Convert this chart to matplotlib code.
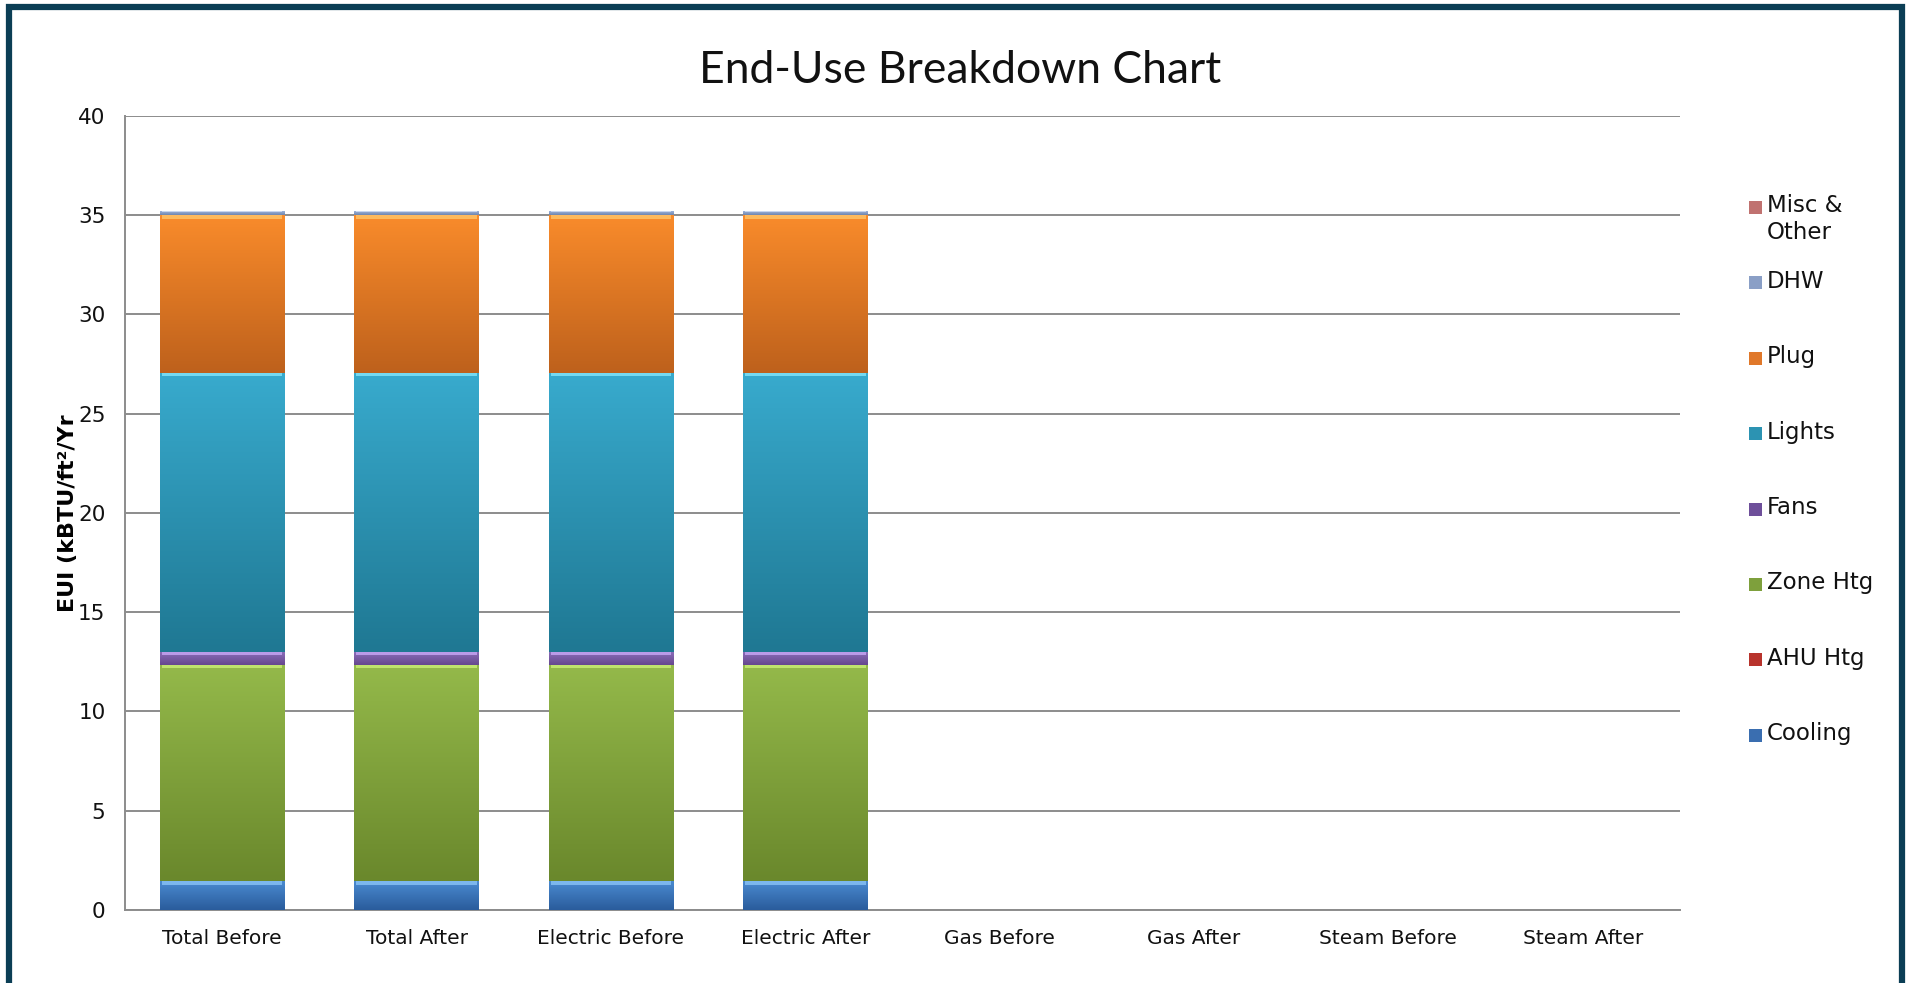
import numpy as np
import matplotlib
matplotlib.use("Agg")
import matplotlib.pyplot as plt
from matplotlib.patches import Rectangle
from matplotlib.colors import to_rgb

# categories along the x axis
categories = ["Total Before", "Total After", "Electric Before", "Electric After",
              "Gas Before", "Gas After", "Steam Before", "Steam After"]

# end-use values in kBTU/ft2/Yr (stack order bottom -> top)
cooling = [1.45, 1.45, 1.45, 1.45, 0, 0, 0, 0]
ahu_htg = [0, 0, 0, 0, 0, 0, 0, 0]
zone_htg = [10.9, 10.9, 10.9, 10.9, 0, 0, 0, 0]
fans = [0.65, 0.65, 0.65, 0.65, 0, 0, 0, 0]
lights = [14.05, 14.05, 14.05, 14.05, 0, 0, 0, 0]
plug = [7.95, 7.95, 7.95, 7.95, 0, 0, 0, 0]
dhw = [0.2, 0.2, 0.2, 0.2, 0, 0, 0, 0]
misc = [0, 0, 0, 0, 0, 0, 0, 0]

series_names = ["Cooling", "AHU Htg", "Zone Htg", "Fans", "Lights", "Plug", "DHW", "Misc &\nOther"]
series_values = [cooling, ahu_htg, zone_htg, fans, lights, plug, dhw, misc]

# (top colour, bottom colour, highlight) for the glossy look
series_colors = [
    ("#4a8ad0", "#2a5c9c", "#86c0f4"),
    ("#cc4038", "#9a2620", "#f07a70"),
    ("#94b94a", "#6a882c", "#c8ec74"),
    ("#8a6cb8", "#66488e", "#c4a4f2"),
    ("#38aacd", "#1f7893", "#80e2f8"),
    ("#f98b2b", "#be611c", "#ffc266"),
    ("#9cb2da", "#6f86ae", "#d0def4"),
    ("#c87a78", "#9c5250", "#eab0ae"),
]
legend_colors = ["#3a6eb0", "#b8332c", "#7ea03c", "#6e4f9a", "#2c93b2", "#e0782a", "#8a9fc6", "#c07270"]

plt.rcParams["font.family"] = ["DejaVu Sans"]

W, H = 1908, 983
fig = plt.figure(figsize=(W / 100, H / 100), dpi=100)
ax = fig.add_axes([0.0655, 0.0743, 0.815, 0.8077])

x = np.arange(len(categories))
bottom = np.zeros(len(categories))
bar_width = 0.64
for vals, (ctop, cbot, chi) in zip(series_values, series_colors):
    bars = ax.bar(x, vals, bar_width, bottom=bottom, color=cbot, linewidth=0, zorder=3)
    grad = np.linspace(0, 1, 64)[:, None]
    top_rgb = np.array(to_rgb(ctop))
    bot_rgb = np.array(to_rgb(cbot))
    img = (top_rgb * (1 - grad) + bot_rgb * grad)[:, None, :]
    for p in bars:
        h = p.get_height()
        if h <= 0:
            continue
        x0, y0, w = p.get_x(), p.get_y(), p.get_width()
        ax.imshow(img, extent=(x0, x0 + w, y0, y0 + h), aspect="auto",
                  origin="upper", zorder=4, interpolation="bilinear")
        hh = min(0.17, h * 0.25)
        ax.add_patch(Rectangle((x0 + 0.01, y0 + h - hh), w - 0.02, hh,
                               facecolor=chi, edgecolor="none", zorder=5, alpha=0.85))
    bottom += np.array(vals)

ax.set_xlim(-0.5, len(categories) - 0.5)
ax.set_ylim(0, 40)
ax.set_yticks(np.arange(0, 41, 5))
ax.set_xticks(x)
ax.set_xticklabels(categories, fontsize=14.5)
ax.tick_params(axis="both", length=0, colors="#111111")
ax.tick_params(axis="x", pad=14, labelsize=14.5)
ax.tick_params(axis="y", pad=14, labelsize=15.5)
ax.yaxis.grid(True, color="#8c8c8c", linewidth=1.4, zorder=0)
ax.set_axisbelow(True)
for s in ["top", "right"]:
    ax.spines[s].set_visible(False)
for s in ["left", "bottom"]:
    ax.spines[s].set_color("#8c8c8c")
    ax.spines[s].set_linewidth(1.4)
ax.set_ylabel("EUI (kBTU/ft²/Yr", fontsize=16, fontweight="bold")
ax.yaxis.set_label_coords(-0.030, 0.5)

fig.text(0.503, 0.928, "End-Use Breakdown Chart", ha="center", va="center",
         fontsize=32, color="#111111", family=["Lato", "DejaVu Sans"])

# legend on the right, top entry first (reverse of stack order)
row0, pitch = 207.5, 75.4
for i, (name, col) in enumerate(zip(series_names[::-1], legend_colors[::-1])):
    yc = row0 + i * pitch
    fig.add_artist(Rectangle((1749 / W, 1 - (yc + 6.5) / H), 13 / W, 13 / H,
                             transform=fig.transFigure, facecolor=col,
                             edgecolor="none"))
    fig.text(1767 / W, 1 - (yc - 13) / H, name, ha="left", va="top",
             fontsize=16.5, color="#111111", linespacing=1.2)

# dark frame around the chart area
fig.add_artist(Rectangle((0.0045, -0.05), 0.9925, 1.043, transform=fig.transFigure,
                         fill=False, edgecolor="#0b3e55", linewidth=4.5))

fig.savefig("out.png", dpi=100, facecolor="white")
